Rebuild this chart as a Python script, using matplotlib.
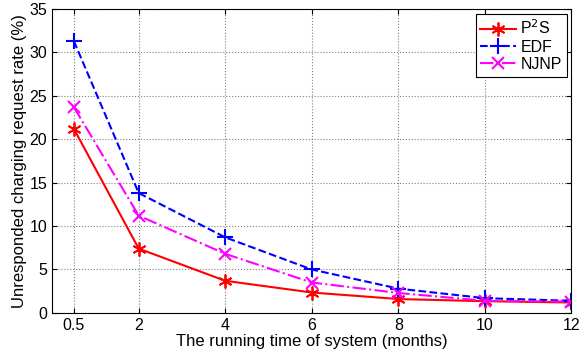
import matplotlib.pyplot as plt

plt.rcParams['font.family'] = ['Liberation Sans', 'DejaVu Sans']

months = [0.5, 2, 4, 6, 8, 10, 12]
p2s = [21.2, 7.4, 3.7, 2.35, 1.6, 1.35, 1.2]
edf = [31.3, 13.8, 8.7, 5.0, 2.8, 1.7, 1.4]
njnp = [23.7, 11.2, 6.8, 3.5, 2.3, 1.4, 1.3]

fig = plt.figure(figsize=(5.8, 3.54), dpi=100)
ax = fig.add_axes([0.09, 0.116, 0.895, 0.859])

ax.plot(months, p2s, 'r-', marker=(6, 2, 0), lw=1.5, ms=10, mew=1.3, label='P$^2$S')
ax.plot(months, edf, 'b--+', lw=1.5, ms=11, mew=1.5, label='EDF')
ax.plot(months, njnp, '-.x', color='magenta', lw=1.5, ms=8, mew=1.5, label='NJNP')

ax.set_xlim(0, 12)
ax.set_ylim(0, 35)
ax.set_xticks(months)
ax.set_xticklabels(['0.5', '2', '4', '6', '8', '10', '12'])
ax.set_yticks(range(0, 36, 5))
ax.tick_params(direction='in', top=True, right=True, labelsize=11.5)
ax.grid(True, linestyle=':', color='gray', lw=0.8)
ax.set_xlabel('The running time of system (months)', fontsize=12, labelpad=1)
ax.set_ylabel('Unresponded charging request rate (%)', fontsize=12, labelpad=2)

leg = ax.legend(loc='upper right', fontsize=11.5, fancybox=False, edgecolor='black',
                framealpha=1, handlelength=2.2, borderpad=0.3, labelspacing=0.15,
                borderaxespad=0.3, handletextpad=0.3)
leg.get_frame().set_linewidth(0.8)

fig.savefig('out.png', dpi=100)
